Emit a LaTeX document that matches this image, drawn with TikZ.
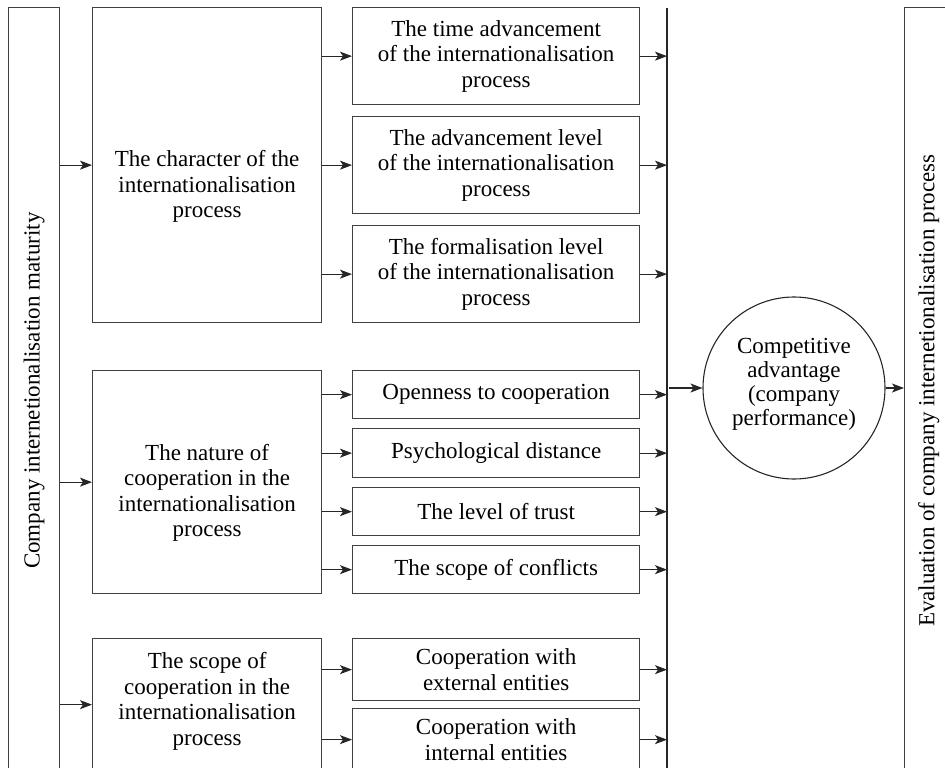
\documentclass[tikz,border=0pt]{standalone}
\usepackage{fontspec}
\setmainfont{Liberation Serif}
\usetikzlibrary{arrows.meta}

% lower a centred block of lines by #1 without changing its size
\newcommand{\droplines}[2]{\raisebox{-#1}[\height][\depth]{\begin{tabular}{@{}c@{}}#2\end{tabular}}}

\begin{document}
\begin{tikzpicture}[x=1pt,y=-1pt,
  frame/.style={draw=black!75, line width=1.3pt, rectangle, anchor=north west,
    inner sep=0pt, align=center, font=\fontsize{23}{25.5}\selectfont},
  bigbox/.style={frame, minimum width=229pt},
  smallbox/.style={frame, minimum width=287pt},
  bar/.style={frame},
  flow/.style={draw=black!85, line width=1.1pt,
    -{Stealth[length=12pt,width=9pt,inset=3pt]}}]

\useasboundingbox (0,0) rectangle (945,768);
\clip (0,0) rectangle (945,768);

% outer bars
\node[bar, minimum width=51pt, minimum height=766pt] (lbar) at (8,7)
  {\rotatebox{90}{Company internetionalisation maturity}};
\node[bar, minimum width=48pt, minimum height=766pt] (rbar) at (904,7)
  {\rotatebox{90}{Evaluation of company internetionalisation process}};

% main groups
\node[bigbox, minimum height=315pt] (g1) at (92,7)
  {\droplines{22pt}{The character of the\\internationalisation\\process}};
\node[bigbox, minimum height=223pt] (g2) at (92,370)
  {\droplines{11pt}{The nature of\\cooperation in the\\internationalisation\\process}};
\node[bigbox, minimum height=132pt] (g3) at (92,638)
  {\droplines{-3pt}{The scope of\\cooperation in the\\internationalisation\\process}};

% factors
\node[smallbox, minimum height=97pt] (s1) at (352,7)
  {The time advancement\\of the internationalisation\\process};
\node[smallbox, minimum height=97pt] (s2) at (352,116)
  {The advancement level\\of the internationalisation\\process};
\node[smallbox, minimum height=97pt] (s3) at (352,225)
  {The formalisation level\\of the internationalisation\\process};
\node[smallbox, minimum height=48pt] (s4) at (352,370) {Openness to cooperation};
\node[smallbox, minimum height=49pt] (s5) at (352,428) {Psychological distance};
\node[smallbox, minimum height=48pt] (s6) at (352,487) {The level of trust};
\node[smallbox, minimum height=48pt] (s7) at (352,545) {The scope of conflicts};
\node[smallbox, minimum height=62pt] (s8) at (352,638)
  {Cooperation with\\external entities};
\node[smallbox, minimum height=62pt] (s9) at (352,708)
  {Cooperation with\\internal entities};

% collecting line
\coordinate (vtop) at (667,8);
\coordinate (vbot) at (667,780);
\draw[black!85, line width=1.2pt] (vtop) -- (vbot);

% result
\node[circle, draw=black!85, line width=1.1pt, minimum size=182pt, inner sep=0pt,
  align=center, font=\fontsize{23}{24}\selectfont] (adv) at (794,388)
  {\droplines{-3pt}{Competitive\\advantage\\(company\\performance)}};

% connectors
\foreach \g in {g1,g2,g3}
  \draw[flow] (lbar.east |- \g.west) -- (\g.west);
\foreach \s in {s1,s2,s3}
  \draw[flow] (g1.east |- \s.west) -- (\s.west);
\foreach \s in {s4,s5,s6,s7}
  \draw[flow] (g2.east |- \s.west) -- (\s.west);
\foreach \s in {s8,s9}
  \draw[flow] (g3.east |- \s.west) -- (\s.west);
\foreach \s in {s1,s2,s3,s4,s5,s6,s7,s8,s9}
  \draw[flow] (\s.east) -- (\s.east -| vtop);
\draw[flow] ([xshift=2pt]adv.west -| vtop) -- (adv.west);
\draw[flow] (adv.east) -- (adv.east -| rbar.west);

\end{tikzpicture}
\end{document}
